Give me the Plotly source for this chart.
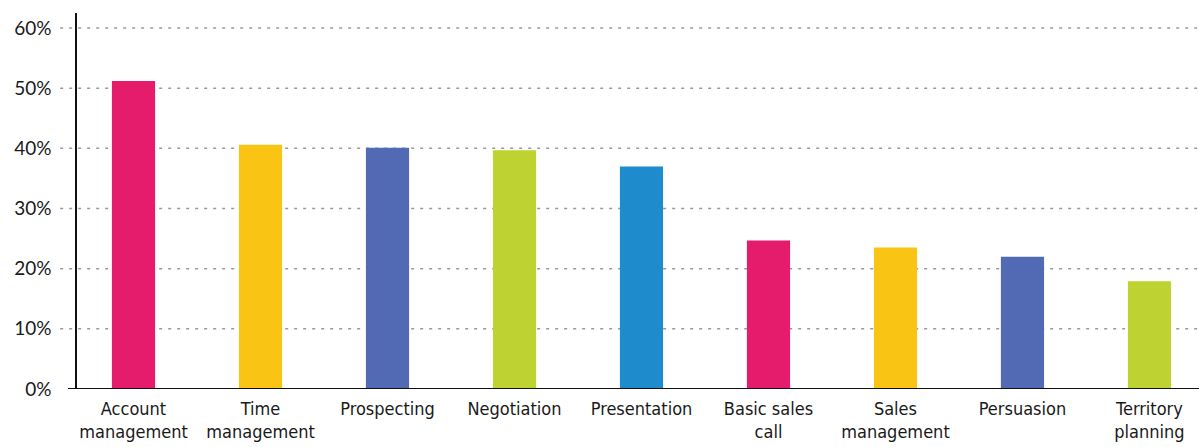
import plotly.graph_objects as go

categories = ["Account<br>management", "Time<br>management", "Prospecting", "Negotiation",
              "Presentation", "Basic sales<br>call", "Sales<br>management", "Persuasion",
              "Territory<br>planning"]
values = [51.2, 40.6, 40.1, 39.7, 37.0, 24.7, 23.5, 22.0, 17.9]
colors = ["#E51B6B", "#FAC415", "#5269B3", "#BED332", "#1E8BCD",
          "#E51B6B", "#FAC415", "#5269B3", "#BED332"]
tick_vals = [0, 10, 20, 30, 40, 50, 60]
tick_text = ["0%", "10%", "20%", "30%", "40%", "50%", "60%"]

fig = go.Figure()
fig.add_trace(go.Bar(x=list(range(len(categories))), y=values, marker_color=colors,
                     marker_line_width=0, width=0.34))

shapes = []
for v in tick_vals[1:]:
    shapes.append(dict(type="line", xref="paper", yref="y", x0=-0.015, x1=1, y0=v, y1=v,
                       line=dict(color="#9a9a9a", width=1.5, dash="3px,6px"), layer="below"))
shapes.append(dict(type="line", xref="paper", yref="y", x0=-0.008, x1=1, y0=0, y1=0,
                   line=dict(color="#111111", width=2)))

fig.update_layout(
    width=1199, height=447,
    margin=dict(l=77, r=0, t=13, b=58),
    paper_bgcolor="white", plot_bgcolor="white",
    showlegend=False,
    shapes=shapes,
    xaxis=dict(range=[-0.445, 8.39], tickmode="array", tickvals=list(range(len(categories))),
               ticktext=categories, showgrid=False, zeroline=False, showline=False,
               ticks="", automargin=False, ticklabelstandoff=7,
               tickfont=dict(family="Liberation Sans Narrow, DejaVu Sans Condensed, Roboto Condensed, Roboto",
                             size=18, color="#1a1a1a")),
    yaxis=dict(range=[0, 62.5], tickmode="array", tickvals=tick_vals, ticktext=tick_text,
               showgrid=False, zeroline=False, showline=True, linecolor="#111111", linewidth=1.5,
               ticks="", ticklabelstandoff=20, automargin=False,
               tickfont=dict(family="Lato, Noto Sans", size=19, color="#1a1a1a")),
)

fig.write_html("out.html", config={"displayModeBar": False},
               post_script="document.body.style.margin='0';document.body.style.padding='0';")
